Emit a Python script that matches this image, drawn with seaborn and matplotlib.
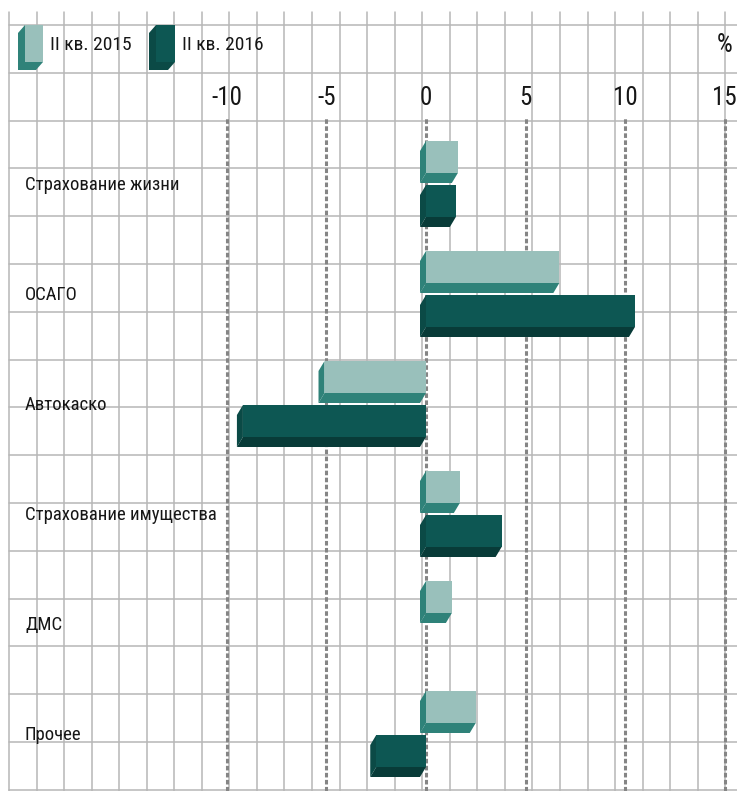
import numpy as np
import pandas as pd
import seaborn as sns
import matplotlib.pyplot as plt
from matplotlib.patches import Polygon, Rectangle
from matplotlib.transforms import blended_transform_factory

# Data (% change)
categories = ["Страхование жизни", "ОСАГО", "Автокаско",
              "Страхование имущества", "ДМС", "Прочее"]
q2_2015 = [1.6, 6.7, -5.1, 1.7, 1.3, 2.5]
q2_2016 = [1.5, 10.5, -9.2, 3.8, 0.0, -2.5]
series = ["II кв. 2015", "II кв. 2016"]
ticks = [-10, -5, 0, 5, 10, 15]

df = pd.DataFrame({
    "category": categories * 2,
    "value": q2_2015 + q2_2016,
    "series": [series[0]] * len(categories) + [series[1]] * len(categories),
})

W, H = 737, 791
front = {series[0]: "#99c0bb", series[1]: "#0d5753"}
side = {series[0]: "#2f8279", series[1]: "#0b4a46"}
bottom = {series[0]: "#2f8279", series[1]: "#083b38"}
TXT = "#161616"

sns.set_theme(style="white")
plt.rcParams["font.family"] = ["Roboto Condensed", "Liberation Sans Narrow",
                               "Liberation Sans", "DejaVu Sans"]

fig = plt.figure(figsize=(W / 100, H / 100), dpi=100)

# background grid paper (pixel coords)
bg = fig.add_axes([0, 0, 1, 1])
bg.set_xlim(0, W)
bg.set_ylim(H, 0)
bg.axis("off")
for x in np.arange(9, W, 27.55):
    bg.plot([x, x], [12, H], color="#b7b7b7", lw=1.1, zorder=0)
for y in np.arange(25, H + 1, 47.8):
    bg.plot([9, W], [y, y], color="#b7b7b7", lw=1.1, zorder=0)

# data axes over the whole figure
ax = fig.add_axes([0, 0, 1, 1])
ax.patch.set_alpha(0)
px_x, x_zero = 19.9, 426     # pixels per %, pixel of 0
px_y, y_first = 110, 185     # pixels per category, pixel of first category

sns.barplot(data=df, x="value", y="category", hue="series", orient="h",
            palette=front, saturation=1, width=0.8, linewidth=0,
            edgecolor="none", legend=False, ax=ax, zorder=3)

ax.set_xlim(-x_zero / px_x, (W - x_zero) / px_x)
ax.set_ylim((H - y_first) / px_y, -y_first / px_y)
ax.axis("off")

# 3D look: shrink the face, add left/bottom depth faces
dx, dy, h = 6 / px_x, 10 / px_y, 32 / px_y
for cont, s in zip(ax.containers, series):
    for p in cont:
        w = p.get_width()
        if w == 0:
            p.set_visible(False)
            continue
        a, b = min(p.get_x(), p.get_x() + w), max(p.get_x(), p.get_x() + w)
        t = p.get_y()
        p.set_height(h)
        ax.add_patch(Polygon([(a, t), (a - dx, t + dy), (a - dx, t + h + dy), (a, t + h)],
                             closed=True, fc=side[s], ec="none", zorder=2))
        ax.add_patch(Polygon([(a, t + h), (a - dx, t + h + dy), (b - dx, t + h + dy), (b, t + h)],
                             closed=True, fc=bottom[s], ec="none", zorder=2))

# dashed value lines and tick labels
for t in ticks:
    ax.axvline(t, ymin=0, ymax=1 - 117 / H, color="#858585", lw=2.2,
               ls=(0, (1.5, 0.8)), zorder=1)
    ax.text(t, 1 - 98 / H, str(t), transform=blended_transform_factory(ax.transData, ax.transAxes),
            ha="center", va="center", fontsize=18, color=TXT)
bg.text(733, 45, "%", ha="right", va="center", fontsize=18, color=TXT)

# category labels
lab_tr = blended_transform_factory(ax.transAxes, ax.transData)
for i, c in enumerate(categories):
    ax.text(25 / W, i, c, transform=lab_tr, ha="left", va="center",
            fontsize=13.5, color=TXT)

# legend
for (x0, x1), s in zip([(25, 43), (156, 175)], series):
    y0, y1, d, e = 25, 62, 7, 8
    bg.add_patch(Polygon([(x0, y0), (x0 - d, y0 + e), (x0 - d, y1 + e), (x1 - d, y1 + e), (x1, y1)],
                         closed=True, fc=side[s], ec="none", zorder=2))
    bg.add_patch(Rectangle((x0, y0), x1 - x0, y1 - y0, fc=front[s], ec="none", zorder=3))
    bg.text(x1 + 7, 45, s, ha="left", va="center", fontsize=14, color=TXT)

fig.savefig("out.png", dpi=100)
